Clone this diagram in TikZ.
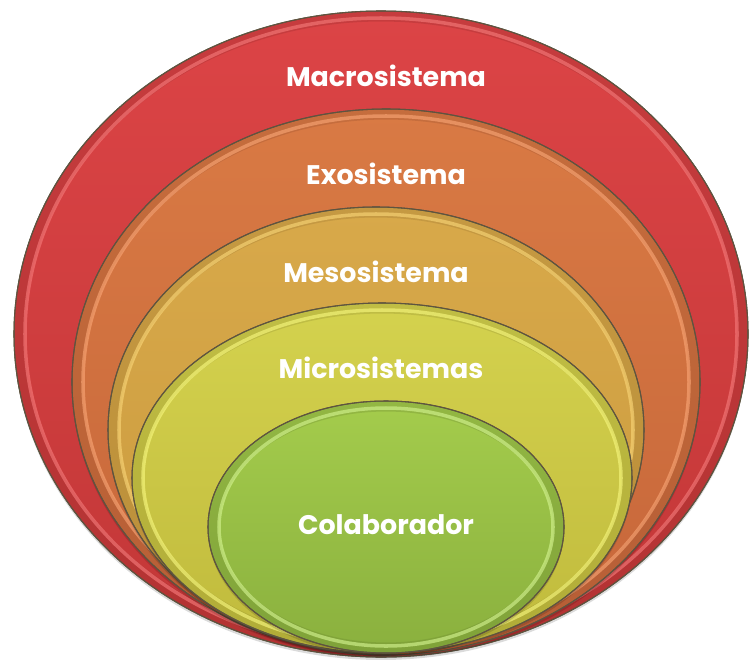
\documentclass[tikz,border=0pt]{standalone}
\usepackage{fontspec}
\setmainfont{Poppins}
\usepackage{tikz}

\definecolor{edgegray}{HTML}{5E5440}
\definecolor{macroA}{HTML}{DC4446}
\definecolor{macroB}{HTML}{C23737}
\definecolor{macroC}{HTML}{F47878}
\definecolor{exoA}{HTML}{D97A44}
\definecolor{exoB}{HTML}{C6663A}
\definecolor{exoC}{HTML}{F8A474}
\definecolor{mesoA}{HTML}{D8A94A}
\definecolor{mesoB}{HTML}{CA9A3E}
\definecolor{mesoC}{HTML}{F8D476}
\definecolor{microA}{HTML}{D4D24E}
\definecolor{microB}{HTML}{C0BA3C}
\definecolor{microC}{HTML}{F6F67C}
\definecolor{colabA}{HTML}{A4CC4C}
\definecolor{colabB}{HTML}{8AB03E}
\definecolor{colabC}{HTML}{D2F28E}

\tikzset{
  layer/.style={draw=edgegray, line width=0.6pt},
  band/.style={line width=12pt, opacity=0.25},
  rim/.style={line width=2pt, opacity=0.65},
  drop/.style={fill=black, opacity=0.14},
  label/.style={text=white, font=\bfseries\fontsize{15.3}{18}\selectfont},
}

\begin{document}
\begin{tikzpicture}[x=0.02cm, y=-0.02cm]
            \useasboundingbox (0,0) rectangle (750,659);
            % Macrosistema
            \fill[drop] (381,337) ellipse (367 and 323);
            \shadedraw[layer, top color=macroA, bottom color=macroB] (381,334) ellipse (367 and 323);
            \begin{scope}
                \clip (381,334) ellipse (367 and 323);
                \draw[band, macroB!70!black] (381,334) ellipse (367 and 323);
            \end{scope}
            \draw[rim, macroC] (381,334) ellipse (356 and 316);
            \draw[edgegray, line width=0.6pt] (381,334) ellipse (367 and 323);
            % Exosistema
            \fill[drop] (386,385) ellipse (314 and 273);
            \shadedraw[layer, top color=exoA, bottom color=exoB] (386,382) ellipse (314 and 273);
            \begin{scope}
                \clip (386,382) ellipse (314 and 273);
                \draw[band, exoB!70!black] (386,382) ellipse (314 and 273);
            \end{scope}
            \draw[rim, exoC] (386,382) ellipse (303 and 266);
            \draw[edgegray, line width=0.6pt] (386,382) ellipse (314 and 273);
            % Mesosistema
            \fill[drop] (376,433) ellipse (268 and 223);
            \shadedraw[layer, top color=mesoA, bottom color=mesoB] (376,430) ellipse (268 and 223);
            \begin{scope}
                \clip (376,430) ellipse (268 and 223);
                \draw[band, mesoB!70!black] (376,430) ellipse (268 and 223);
            \end{scope}
            \draw[rim, mesoC] (376,430) ellipse (257 and 216);
            \draw[edgegray, line width=0.6pt] (376,430) ellipse (268 and 223);
            % Microsistemas
            \fill[drop] (382,481) ellipse (250 and 175);
            \shadedraw[layer, top color=microA, bottom color=microB] (382,478) ellipse (250 and 175);
            \begin{scope}
                \clip (382,478) ellipse (250 and 175);
                \draw[band, microB!70!black] (382,478) ellipse (250 and 175);
            \end{scope}
            \draw[rim, microC] (382,478) ellipse (239 and 168);
            \draw[edgegray, line width=0.6pt] (382,478) ellipse (250 and 175);
            % Colaborador
            \fill[drop] (386,530) ellipse (178 and 126);
            \shadedraw[layer, top color=colabA, bottom color=colabB] (386,527) ellipse (178 and 126);
            \begin{scope}
                \clip (386,527) ellipse (178 and 126);
                \draw[band, colabB!70!black] (386,527) ellipse (178 and 126);
            \end{scope}
            \draw[rim, colabC] (386,527) ellipse (167 and 119);
            \draw[edgegray, line width=0.6pt] (386,527) ellipse (178 and 126);
            % labels
            \node[label] (macro) at (386,76) {Macrosistema};
            \node[label] (exo) at (386,174) {Exosistema};
            \node[label] (meso) at (376,272) {Mesosistema};
            \node[label] (micro) at (381,368) {Microsistemas};
            \node[label] (colab) at (386,525) {Colaborador};
        \end{tikzpicture}
\end{document}
